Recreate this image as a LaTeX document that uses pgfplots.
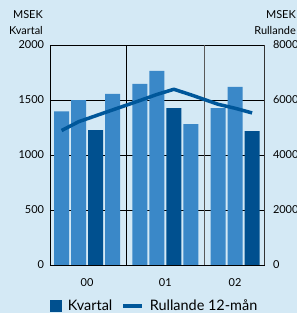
\documentclass[border=0pt]{standalone}
\usepackage{pgfplots}
\pgfplotsset{compat=1.18}
\usepackage{fontspec}
\setmainfont{Lato}
\definecolor{bg}{HTML}{D4E9F5}
\definecolor{lightbar}{HTML}{3A88C8}
\definecolor{darkbar}{HTML}{00508F}
\definecolor{linec}{HTML}{00579A}
\newcommand{\lbl}{\fontsize{11}{13}\selectfont}
\newcommand{\leg}{\fontsize{14.5}{16}\selectfont}
\begin{document}
\begin{tikzpicture}
\fill[bg] (-50bp,-48bp) rectangle (247bp,265bp);
\begin{axis}[
  at={(0,0)}, anchor=south west,
  scale only axis, width=214.5bp, height=220bp,
  xmin=-0.68, xmax=11.93, ymin=0, ymax=2000,
  ybar, bar width=15bp, bar shift=0pt,
  axis background/.style={fill=bg},
  xtick={1.5,6.1,10.2}, xticklabels={00,01,02},
  ytick={0,500,1000,1500,2000},
  ymajorgrids, grid style={black, line width=0.8bp},
  major tick length=0pt,
  axis line style={black, line width=0.8bp},
  tick label style={font=\lbl},
  /pgf/number format/assume math mode=true,
  yticklabel style={/pgf/number format/1000 sep={}, xshift=-2.5bp},
  xticklabel style={yshift=-10bp},
  legend style={at={(0,-0.158)}, anchor=north west, draw=none, fill=none,
    font=\leg, inner sep=0pt, outer sep=0pt,
    nodes={inner sep=0pt},
    /tikz/every odd column/.append style={column sep=6bp},
    /tikz/every even column/.append style={column sep=9bp}},
  legend columns=-1,
]
\addplot[fill=darkbar, draw=none,
  legend image code/.code={\fill[darkbar] (0bp,-6bp) rectangle (12bp,6bp);}]
  coordinates {(2,1226) (6.6,1427) (11.2,1217)};
\addlegendentry{Kvartal}
\addplot[fill=lightbar, draw=none, forget plot]
  coordinates {(0,1397) (1,1500) (3,1555) (4.6,1646) (5.6,1765) (7.6,1281) (9.2,1427) (10.2,1619)};
\addlegendimage{linec, line width=3.5bp,
  legend image code/.code={\draw[linec, line width=3.5bp] (0bp,0bp) -- (19bp,0bp);}}
\addlegendentry{Rullande 12-mån}
\draw[black, line width=0.8bp] (axis cs:3.8,0) -- (axis cs:3.8,2000);
\draw[black!65, line width=0.8bp] (axis cs:8.4,0) -- (axis cs:8.4,2000);
\end{axis}
\begin{axis}[
  at={(0,0)}, anchor=south west,
  scale only axis, width=214.5bp, height=220bp,
  xmin=-0.68, xmax=11.93, ymin=0, ymax=8000,
  axis y line*=right, hide x axis,
  ytick={0,2000,4000,6000,8000},
  major tick length=0pt,
  axis line style={black!80, line width=0.8bp},
  tick label style={font=\lbl},
  /pgf/number format/assume math mode=true,
  yticklabel style={/pgf/number format/1000 sep={}, xshift=5bp},
]
\addplot[linec, line width=3.5bp, line join=round] coordinates {
  (0,4890) (1,5210) (2,5425) (3,5640) (4.6,5980) (5.6,6200) (6.6,6390)
  (7.6,6190) (9.2,5845) (10.2,5700) (11.2,5530)};
\end{axis}
\node[anchor=base east, font=\lbl, inner sep=0pt] at (-7bp,246bp) {MSEK};
\node[anchor=base east, font=\lbl, inner sep=0pt] at (-7bp,230bp) {Kvartal};
\node[anchor=base east, font=\lbl, inner sep=0pt] at (246bp,246bp) {MSEK};
\node[anchor=base east, font=\lbl, inner sep=0pt] at (246bp,230bp) {Rullande};
\pgfresetboundingbox
\useasboundingbox (-50bp,-48bp) rectangle (247bp,265bp);
\end{tikzpicture}
\end{document}
